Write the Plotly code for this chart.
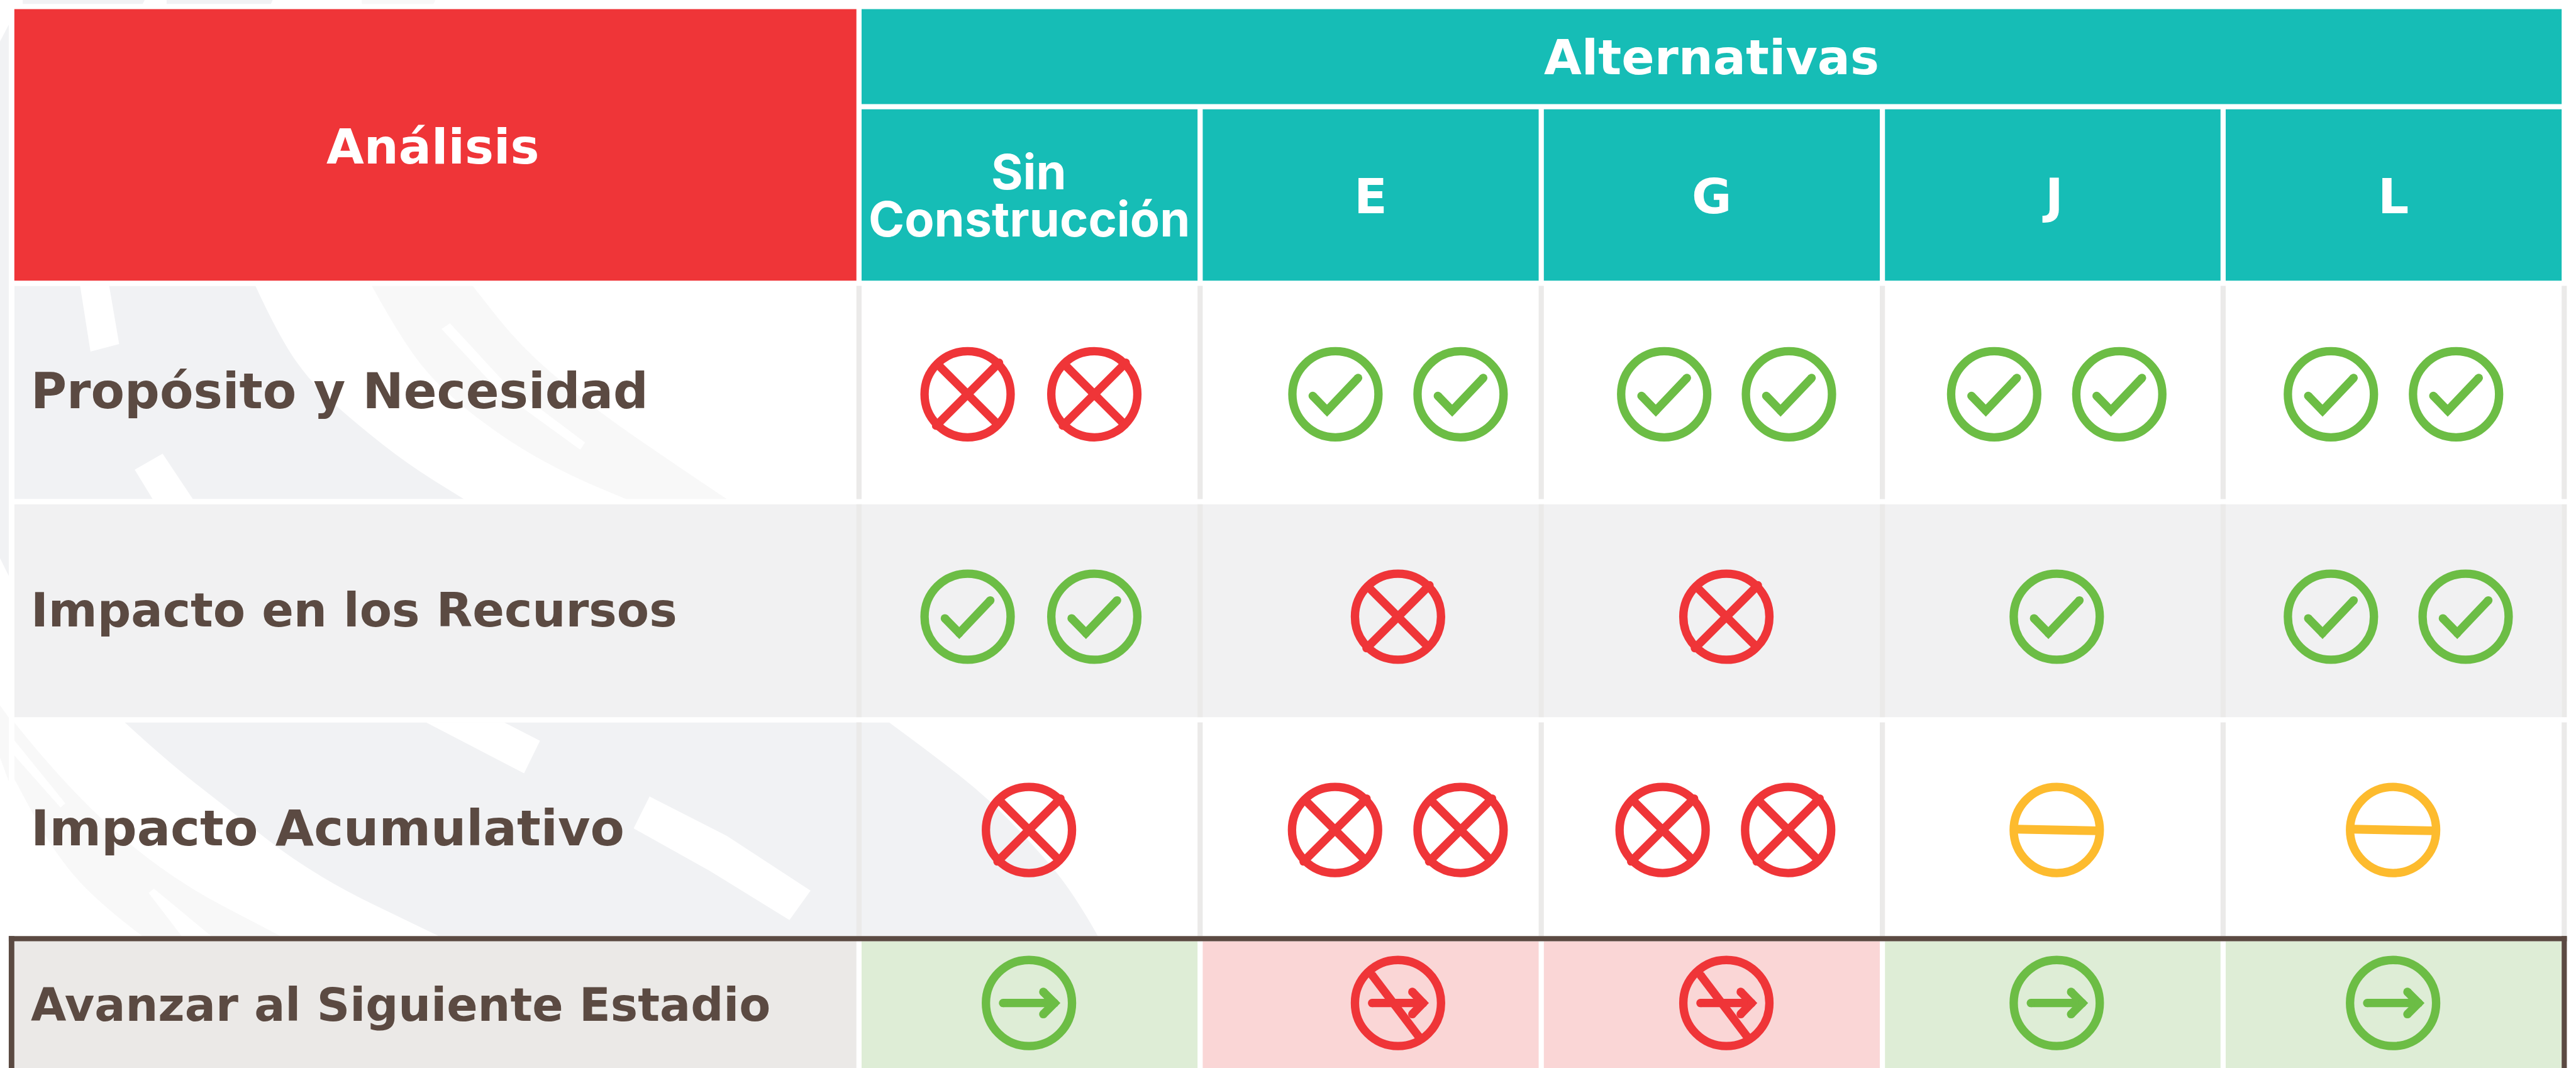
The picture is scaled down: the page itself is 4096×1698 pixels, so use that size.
import plotly.graph_objects as go

# ---------- content ----------
analysis_title = "Análisis"
alternatives_title = "Alternativas"
alternatives = [["Sin", "Construcción"], ["E"], ["G"], ["J"], ["L"]]
analyses = ["Propósito y Necesidad", "Impacto en los Recursos", "Impacto Acumulativo",
            "Avanzar al Siguiente Estadio"]
# one letter per icon: x = no, c = yes, m = neutral, a = advance, s = do not advance
proposito = ["xx", "cc", "cc", "cc", "cc"]
recursos = ["cc", "x", "x", "c", "cc"]
acumulativo = ["x", "xx", "xx", "m", "m"]
avanzar = ["a", "s", "s", "a", "a"]
ratings = [proposito, recursos, acumulativo, avanzar]

# ---------- layout (reference pixels) ----------
W, H = 6464, 2679
FONT_WIDE, FONT_TIGHT = "DejaVu Sans", "Inter"
BROWN, RED, TEAL = "#5B4A42", "#EF3538", "#16BDB6"
GREEN, AMBER = "#6CBD45", "#FDBB2E"
GRID, GREY_ROW, LAST_LABEL = "#EBEAE9", "#F1F1F2", "#EBE9E7"
OK_FILL, NO_FILL = "#DEEDD6", "#FAD6D6"
BAND_DARK, BAND_LIGHT = "#F1F2F4", "#F8F8F8"
col_left = [2162, 3018, 3874, 4730, 5585]
col_right = [3005, 3861, 4717, 5572, 6428]
col_mid = [2582, 3439, 4295, 5151, 6006]
row_top = [717, 1265, 1812, 2361]
row_bot = [1252, 1799, 2348, 2679]
row_icon_y = [989, 1547, 2082, 2516]
label_base = [1025, 1574, 2122, 2562]
label_size = [123, 118, 125, 115]
icon_x = [
    [[2428, 2746], [3351, 3665], [4176, 4489], [5004, 5318], [5849, 6163]],
    [[2428, 2746], [3508], [4332], [5161], [5849, 6187]],
    [[2582], [3350, 3665], [4172, 4487], [5161], [6005]],
    [[2582], [3508], [4332], [5161], [6005]],
]
R_PATH, SW = 108, 21
GLYPH = {
    "x": [[(-74, -74), (74, 74)], [(-79, 79), (79, -79)]],
    "c": [[(-57, 4), (-21, 41), (57, -41)]],
    "m": [[(-103, -2), (103, 2)]],
    "a": [[(-65, 0), (64, 0)], [(36, -28), (64, 0), (36, 28)]],
    "s": [[(-65, 0), (63, 0)], [(36, -28), (63, 0), (36, 28)], [(-64, -69), (52, 84)]],
}
GLYPH_COLOR = {"x": RED, "s": RED, "c": GREEN, "a": GREEN, "m": AMBER}
GLYPH_WIDTH = {RED: 21, GREEN: 21, AMBER: 22}

shapes = []


def rect(x0, y0, x1, y1, color):
    shapes.append(dict(type="rect", x0=x0, y0=y0, x1=x1, y1=y1, fillcolor=color,
                       line=dict(width=0), layer="below"))


def poly(pts, color):
    d = "M" + " L".join(f"{x},{y}" for x, y in pts) + " Z"
    shapes.append(dict(type="path", path=d, fillcolor=color, line=dict(width=0), layer="below"))


def curve(pts):
    s = f"L{pts[0][0]},{pts[0][1]} "
    for i in range(1, len(pts) - 1):
        mx = (pts[i][0] + pts[i + 1][0]) / 2
        my = (pts[i][1] + pts[i + 1][1]) / 2
        s += f"Q{pts[i][0]},{pts[i][1]} {mx},{my} "
    return s + f"L{pts[-1][0]},{pts[-1][1]} "


def band(a, b, color):
    d = "M" + curve(a)[1:] + curve(b[::-1]) + "Z"
    shapes.append(dict(type="path", path=d, fillcolor=color, line=dict(width=0), layer="below"))


# background road
poly([(57, 0), (363, 0), (358, 10), (57, 10)], BAND_DARK)
poly([(418, 0), (684, 0), (680, 10), (418, 10)], BAND_DARK)
poly([(908, 0), (1092, 0), (1088, 10), (908, 10)], BAND_LIGHT)
poly([(0, 104), (22, 62), (22, 1445), (0, 1400)], BAND_DARK)
poly([(0, 1770), (22, 1800), (22, 1960), (0, 1900)], BAND_LIGHT)
band([(933, 717), (1010, 857), (1108, 978), (1263, 1099), (1417, 1187), (1571, 1252)],
     [(1186, 717), (1305, 868), (1459, 1000), (1628, 1121), (1824, 1252)], BAND_LIGHT)
shapes.append(dict(type="path", layer="below", fillcolor=BAND_DARK, line=dict(width=0),
                   path="M36,717 " + curve([(641, 717), (701, 847), (786, 967), (898, 1066),
                                            (1024, 1165), (1164, 1252)]) + "L36,1252 Z"))
poly([(201, 717), (274, 717), (299, 863), (227, 882)], "#FFFFFF")
poly([(338, 1178), (408, 1138), (484, 1252), (383, 1252)], "#FFFFFF")
poly([(1129, 811), (1263, 956), (1468, 1110), (1456, 1128), (1249, 978), (1108, 825)], "#FFFFFF")
band([(36, 1812), (170, 1980), (420, 2200), (704, 2348)],
     [(36, 1954), (130, 2130), (240, 2260), (357, 2348)], BAND_LIGHT)
poly([(35, 1856), (164, 2015), (152, 2026), (35, 1894)], "#FFFFFF")
poly([(373, 2240), (386, 2229), (530, 2348), (456, 2348)], "#FFFFFF")
band([(313, 1812), (421, 1911), (561, 2020), (786, 2196), (1101, 2348)],
     [(2231, 1812), (2347, 1898), (2470, 1994), (2592, 2118), (2694, 2240), (2755, 2348)], BAND_DARK)
poly([(1069, 1812), (1265, 1812), (1355, 1858), (1315, 1940)], "#FFFFFF")
poly([(1630, 1998), (1824, 2097), (2034, 2234), (1981, 2308), (1782, 2185), (1590, 2078)], "#FFFFFF")

# white gutters over the road, then grey row
rect(22, 704, 6464, 717, "#FFFFFF")
rect(22, 1252, 6464, 1265, "#FFFFFF")
rect(22, 1799, 6464, 1812, "#FFFFFF")
rect(22, 0, 36, 2348, "#FFFFFF")
rect(36, 1265, 6428, 1799, GREY_ROW)

# headers
rect(36, 23, 2149, 704, RED)
rect(col_left[0], 23, col_right[-1], 261, TEAL)
for l, r in zip(col_left, col_right):
    rect(l, 274, r, 704, TEAL)

# column rules of the three body rows
for x in [2149, 3005, 3861, 4717, 5572, 6428]:
    for t, b in zip(row_top[:3], row_bot[:3]):
        rect(x, t, x + 13, b, GRID)

# decision row
rect(36, 2361, 2149, 2679, LAST_LABEL)
for l, r, v in zip(col_left, col_right, avanzar):
    rect(l, 2361, r, 2679, NO_FILL if v == "s" else OK_FILL)
rect(22, 2348, 6441, 2361, BROWN)
rect(22, 2348, 36, 2679, BROWN)
rect(6428, 2348, 6441, 2679, BROWN)

fig = go.Figure()
SCALE = 4096 / W

# icons
ring_x, ring_y, ring_c = [], [], []
strokes = {RED: ([], []), GREEN: ([], []), AMBER: ([], [])}
for row, row_vals in enumerate(ratings):
    for col, val in enumerate(row_vals):
        for kind, cx in zip(val, icon_x[row][col]):
            cy = row_icon_y[row]
            color = GLYPH_COLOR[kind]
            ring_x.append(cx)
            ring_y.append(cy)
            ring_c.append(color)
            for seg in GLYPH[kind]:
                strokes[color][0].extend([cx + p[0] for p in seg] + [None])
                strokes[color][1].extend([cy + p[1] for p in seg] + [None])

for color, (xs, ys) in strokes.items():
    fig.add_trace(go.Scatter(
        x=xs, y=ys, mode="lines+markers", hoverinfo="skip", showlegend=False,
        line=dict(color=color, width=GLYPH_WIDTH[color] * SCALE),
        marker=dict(color=color, size=GLYPH_WIDTH[color] * SCALE, line=dict(width=0))))
fig.add_trace(go.Scatter(
    x=ring_x, y=ring_y, mode="markers", hoverinfo="skip", showlegend=False,
    marker=dict(symbol="circle-open", size=2 * R_PATH * SCALE, color=ring_c,
                line=dict(width=SW * SCALE, color=ring_c))))


# text
def add_text(text, x, base, size, color, anchor="center", family=FONT_WIDE, drop=0.25):
    px = size * SCALE
    fig.add_annotation(x=x, y=base, xref="x", yref="y", text=f"<b>{text}</b>", showarrow=False,
                       xanchor=anchor, yanchor="bottom", yshift=-drop * px,
                       font=dict(family=family, size=px, color=color))


HEAD_SIZE, TIGHT_SIZE = 122, 122
add_text(analysis_title, 1086, 411, HEAD_SIZE, "#FFFFFF")
add_text(alternatives_title, 4295, 188, HEAD_SIZE, "#FFFFFF")
for lines, mid in zip(alternatives, col_mid):
    if len(lines) == 2:
        add_text(lines[0], mid, 474, TIGHT_SIZE, "#FFFFFF", family=FONT_TIGHT, drop=0.285)
        add_text(lines[1], mid, 591, TIGHT_SIZE, "#FFFFFF", family=FONT_TIGHT, drop=0.285)
    else:
        add_text(lines[0], mid, 536, HEAD_SIZE, "#FFFFFF")
for label, base, size in zip(analyses, label_base, label_size):
    add_text(label, 74, base, size, BROWN, "left")

fig.update_layout(
    width=4096, height=1698, margin=dict(l=0, r=0, t=0, b=0),
    paper_bgcolor="#FFFFFF", plot_bgcolor="rgba(0,0,0,0)", shapes=shapes, showlegend=False,
    xaxis=dict(range=[0, W], visible=False, domain=[0, 1], fixedrange=True),
    yaxis=dict(range=[H, 0], visible=False, domain=[0, 1], fixedrange=True),
)
fig.write_html("out.html", post_script="document.body.style.margin='0';document.body.style.overflow='hidden';",
               config=dict(displayModeBar=False, responsive=False))
